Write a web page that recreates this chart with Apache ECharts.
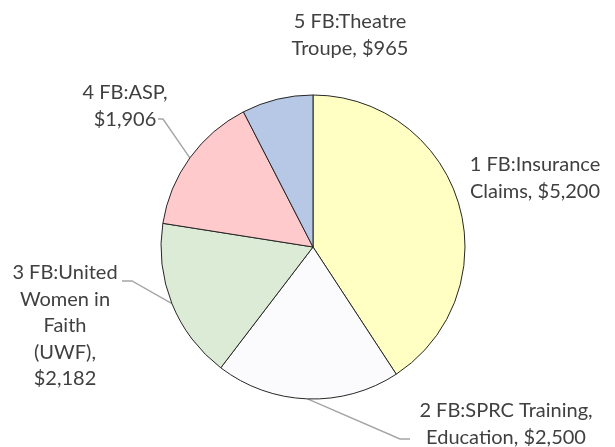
<!DOCTYPE html>
<html>
<head>
<meta charset="utf-8">
<script src="https://cdn.jsdelivr.net/npm/echarts@6/dist/echarts.min.js"></script>
<style>
  html, body { margin: 0; padding: 0; background: #fff; }
  #main { width: 615px; height: 447px; }
</style>
</head>
<body>
<div id="main"></div>
<script>
// data
var categories = ['1 FB:Insurance Claims', '2 FB:SPRC Training, Education', '3 FB:United Women in Faith (UWF)', '4 FB:ASP', '5 FB:Theatre Troupe'];
var values = [5200, 2500, 2182, 1906, 965];
var labelText = ['1 FB:Insurance\nClaims, ', '2 FB:SPRC Training,\nEducation, ', '3 FB:United\nWomen in\nFaith\n(UWF),\n', '4 FB:ASP,\n', '5 FB:Theatre\nTroupe, '];

var colors = ['#FFFFC4', '#FBFBFD', '#DCEBD5', '#FFCACC', '#B6C8E6'];
// label centers + where the leader line meets the text (null = no line)
var labelPos = [[535, 178], [506, 424], [65, 326], [125, 106], [350, 35]];
var lineEnd = [null, [410, 439, 400], [122, 281, 132], [158, 119, 163], null];

var chart = echarts.init(document.getElementById('main'));

var option = {
  animation: false,
  series: [{
    type: 'pie',
    center: [313, 247],
    radius: [0, 152],
    startAngle: 90,
    clockwise: true,
    avoidLabelOverlap: false,
    itemStyle: { borderColor: '#262626', borderWidth: 1 },
    label: {
      show: true,
      position: 'outside',
      fontFamily: 'Lato',
      fontSize: 20,
      lineHeight: 26.5,
      color: '#404040',
      align: 'center',
      formatter: function (p) {
        return labelText[p.dataIndex] + '$' + p.value.toLocaleString('en-US');
      }
    },
    labelLine: {
      show: true,
      length: 10,
      length2: 10,
      lineStyle: { color: '#A5A5A5', width: 1.4 }
    },
    labelLayout: function (p) {
      var i = p.dataIndex;
      var res = { x: labelPos[i][0], y: labelPos[i][1], align: 'center', verticalAlign: 'middle' };
      if (lineEnd[i] && p.labelLinePoints) {
        var a = p.labelLinePoints[0];
        res.labelLinePoints = [a, [lineEnd[i][2], lineEnd[i][1]], [lineEnd[i][0], lineEnd[i][1]]];
      }
      return res;
    },
    emphasis: { disabled: true },
    data: categories.map(function (c, i) {
      return {
        name: c,
        value: values[i],
        itemStyle: { color: colors[i] },
        labelLine: { show: lineEnd[i] != null }
      };
    })
  }]
};

chart.setOption(option);
</script>
</body>
</html>
